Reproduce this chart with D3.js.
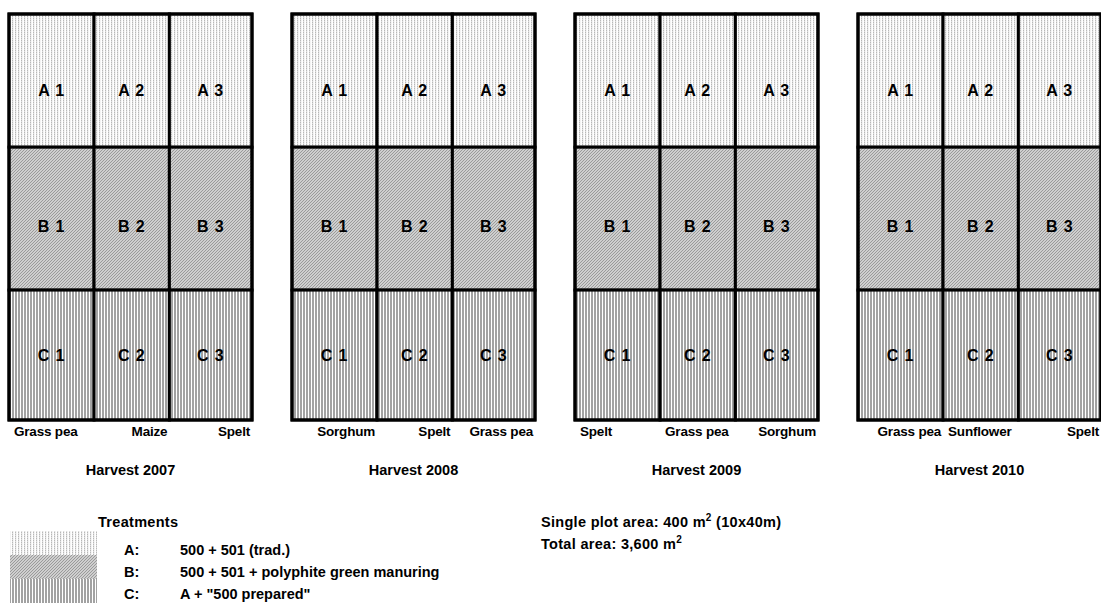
<!DOCTYPE html>
<html>
<head>
<meta charset="utf-8">
<script src="https://cdn.jsdelivr.net/npm/d3@7"></script>
<style>
  body { margin: 0; background: #fff; }
  svg text { font-family: "Liberation Sans", Arial, sans-serif; font-weight: bold; fill: #000; }
</style>
</head>
<body>
<div id="chart"></div>
<script>
const width = 1101;
const height = 604;

// data
const years = ["2007", "2008", "2009", "2010"];
const treatments = ["A", "B", "C"];
const replicates = ["1", "2", "3"];
const crops = [
  ["Grass pea", "Maize", "Spelt"],
  ["Sorghum", "Spelt", "Grass pea"],
  ["Spelt", "Grass pea", "Sorghum"],
  ["Grass pea", "Sunflower", "Spelt"],
];
const cropAlign = [
  ["start", "end", "end"],
  ["end", "end", "end"],
  ["start", "start", "end"],
  ["end", "start", "end"],
];
const treatmentText = [
  "500 + 501 (trad.)",
  "500 + 501 + polyphite green manuring",
  'A + "500 prepared"',
];

// layout
const fieldTop = 14;
const fieldBottom = 420;
const colEdges = [0, 0.35, 0.66, 1];
const rowEdges = [0, 0.328, 0.68, 1];
const labelPos = [0.57, 0.55, 0.5]; // vertical spot of the cell label within each row

const svg = d3.select("#chart").append("svg")
  .attr("width", width)
  .attr("height", height);

const defs = svg.append("defs");

// A: light dotted vertical stripes
const pA = defs.append("pattern").attr("id", "patA")
  .attr("patternUnits", "userSpaceOnUse").attr("width", 3).attr("height", 2);
pA.append("rect").attr("width", 3).attr("height", 2).attr("fill", "#f4f4f4");
pA.append("rect").attr("x", 0).attr("y", 0).attr("width", 1).attr("height", 1).attr("fill", "#b8b8b8");
pA.append("rect").attr("x", 0).attr("y", 1).attr("width", 1).attr("height", 1).attr("fill", "#dcdcdc");
pA.append("rect").attr("x", 2).attr("y", 0).attr("width", 1).attr("height", 2).attr("fill", "#ffffff");

// B: fine diagonal hatch
const pB = defs.append("pattern").attr("id", "patB")
  .attr("patternUnits", "userSpaceOnUse").attr("width", 3).attr("height", 3);
pB.append("rect").attr("width", 3).attr("height", 3).attr("fill", "#cfcfcf");
[[0, 2], [1, 1], [2, 0]].forEach(([x, y]) =>
  pB.append("rect").attr("x", x).attr("y", y).attr("width", 1).attr("height", 1).attr("fill", "#9a9a9a"));

// C: vertical stripes
const pC = defs.append("pattern").attr("id", "patC")
  .attr("patternUnits", "userSpaceOnUse").attr("width", 3).attr("height", 3);
pC.append("rect").attr("width", 3).attr("height", 3).attr("fill", "#ffffff");
pC.append("rect").attr("x", 0).attr("width", 2).attr("height", 3).attr("fill", "#a2a2a2");

const fills = { A: "url(#patA)", B: "url(#patB)", C: "url(#patC)" };

const xField = d3.scaleBand()
  .domain(years)
  .range([9, 1101])
  .paddingInner(40 / 283)
  .paddingOuter(0);

const y = d3.scaleLinear().domain([0, 1]).range([fieldTop, fieldBottom]);

years.forEach((year, fi) => {
  const x0 = xField(year);
  const x = d3.scaleLinear().domain([0, 1]).range([x0, x0 + xField.bandwidth()]);
  const g = svg.append("g").attr("class", "field");

  treatments.forEach((t, ri) => {
    replicates.forEach((r, ci) => {
      const cx0 = x(colEdges[ci]), cx1 = x(colEdges[ci + 1]);
      const cy0 = y(rowEdges[ri]), cy1 = y(rowEdges[ri + 1]);
      g.append("rect")
        .attr("x", cx0).attr("y", cy0)
        .attr("width", cx1 - cx0).attr("height", cy1 - cy0)
        .attr("fill", fills[t])
        .attr("stroke", "#000")
        .attr("stroke-width", 3);
      g.append("text")
        .attr("x", (cx0 + cx1) / 2)
        .attr("y", cy0 + (cy1 - cy0) * labelPos[ri] + 6)
        .attr("text-anchor", "middle")
        .attr("font-size", 16)
        .attr("letter-spacing", 0.8)
        .text(`${t} ${r}`);
    });
  });

  // outer border
  g.append("rect")
    .attr("x", x(0)).attr("y", y(0))
    .attr("width", x(1) - x(0)).attr("height", y(1) - y(0))
    .attr("fill", "none")
    .attr("stroke", "#000")
    .attr("stroke-width", 3);

  // crop labels
  crops[fi].forEach((crop, ci) => {
    const a = cropAlign[fi][ci];
    let lx;
    if (a === "start") lx = x(colEdges[ci]) + 5;
    else if (a === "end") lx = x(colEdges[ci + 1]) - 2;
    else lx = (x(colEdges[ci]) + x(colEdges[ci + 1])) / 2;
    g.append("text")
      .attr("x", lx)
      .attr("y", 436)
      .attr("text-anchor", a)
      .attr("font-size", 13.5)
      .attr("letter-spacing", -0.2)
      .text(crop);
  });

  g.append("text")
    .attr("x", x(0.5))
    .attr("y", 475)
    .attr("text-anchor", "middle")
    .attr("font-size", 14.5)
    .text(`Harvest ${year}`);
});

// legend swatches
const legendY = d3.scaleBand().domain(treatments).range([531, 603]);
svg.selectAll("rect.swatch")
  .data(treatments)
  .join("rect")
  .attr("class", "swatch")
  .attr("x", 10)
  .attr("y", d => legendY(d))
  .attr("width", 87)
  .attr("height", legendY.bandwidth())
  .attr("fill", d => fills[d]);

const fs = 14.5;

svg.append("text")
  .attr("x", 98).attr("y", 527)
  .attr("font-size", fs)
  .attr("letter-spacing", 0.3)
  .text("Treatments");

treatments.forEach((t, i) => {
  const ty = 555 + i * 22;
  svg.append("text").attr("x", 124).attr("y", ty).attr("font-size", fs).text(`${t}:`);
  svg.append("text").attr("x", 180).attr("y", ty).attr("font-size", fs).text(treatmentText[i]);
});

// area notes
const note1 = svg.append("text").attr("x", 541).attr("y", 527)
  .attr("font-size", fs).attr("letter-spacing", 0.3);
note1.append("tspan").text("Single plot area: 400 m");
note1.append("tspan").attr("dy", -6).attr("font-size", 10).text("2");
note1.append("tspan").attr("dy", 6).text(" (10x40m)");

const note2 = svg.append("text").attr("x", 541).attr("y", 549)
  .attr("font-size", fs).attr("letter-spacing", 0.3);
note2.append("tspan").text("Total area: 3,600 m");
note2.append("tspan").attr("dy", -6).attr("font-size", 10).text("2");
</script>
</body>
</html>
